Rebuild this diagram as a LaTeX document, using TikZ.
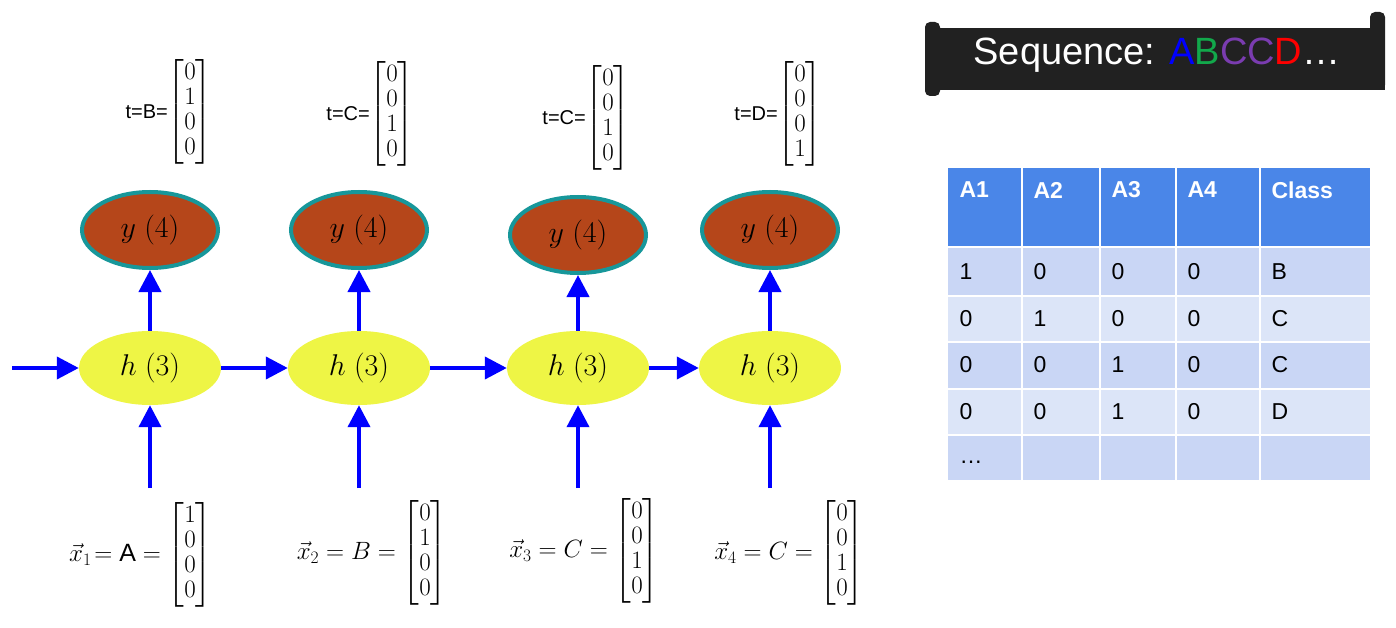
\RequirePackage{fix-cm}
\documentclass[tikz,border=0pt]{standalone}
\usepackage{amsmath}
\usepackage{fontspec}
\setsansfont{Liberation Sans}
\usetikzlibrary{arrows.meta,shapes.geometric}
\definecolor{hdr}{HTML}{4A86E8}
\definecolor{rowa}{HTML}{C9D6F5}
\definecolor{rowb}{HTML}{DCE5F8}
\definecolor{yfill}{HTML}{B5461A}
\definecolor{yedge}{HTML}{17979A}
\definecolor{hfill}{HTML}{EEF545}
\definecolor{seqg}{HTML}{12A84B}
\definecolor{seqp}{HTML}{7A3CB0}
\renewcommand{\arraystretch}{0.92}
\newcommand{\tlab}[1]{{\sffamily\fontsize{20}{20}\selectfont #1}}
\begin{document}
\begin{tikzpicture}[x=1pt,y=-1pt,
 ynode/.style={ellipse,draw=yedge,line width=4pt,fill=yfill,minimum width=136pt,minimum height=76pt,font=\fontsize{30}{30}\selectfont},
 hnode/.style={ellipse,fill=hfill,minimum width=142pt,minimum height=74pt,font=\fontsize{30}{30}\selectfont},
 arr/.style={blue,line width=4pt,-{Triangle[length=22pt,width=22pt]}},
 vec/.style={font=\fontsize{25}{27}\selectfont},
 cell/.style={font=\sffamily\fontsize{23}{23}\selectfont,anchor=west}]
\useasboundingbox (0,0) rectangle (1396,628);
\foreach \i/\x/\yy in {1/150/230,2/359/230,3/578/235,4/770/230}{
 \node[ynode] (y\i) at (\x,\yy) {$y\;(4)$};
 \node[hnode] (h\i) at (\x,368) {$h\;(3)$};
 \coordinate (in\i) at (\x,488);
 \draw[arr] (in\i) -- (h\i.south);
 \draw[arr] (h\i.north) -- (y\i.south);
}
\coordinate (h0) at (12,368);
\draw[arr] (h0) -- (h1.west);
\draw[arr] (h1.east) -- (h2.west);
\draw[arr] (h2.east) -- (h3.west);
\draw[arr] (h3.east) -- (h4.west);
\node[vec,anchor=east] (t1) at (216,112) {\tlab{t=B=}$\begin{bmatrix}0\\1\\0\\0\end{bmatrix}$};
\node[vec,anchor=east] (t2) at (418,114) {\tlab{t=C=}$\begin{bmatrix}0\\0\\1\\0\end{bmatrix}$};
\node[vec,anchor=east] (t3) at (634,118) {\tlab{t=C=}$\begin{bmatrix}0\\0\\1\\0\end{bmatrix}$};
\node[vec,anchor=east] (t4) at (826,114) {\tlab{t=D=}$\begin{bmatrix}0\\0\\0\\1\end{bmatrix}$};
\node[vec,anchor=east] (x1) at (216,555) {$\vec{x}_1\!=\mathsf{A}=\begin{bmatrix}1\\0\\0\\0\end{bmatrix}$};
\node[vec,anchor=east] (x2) at (451,553) {$\vec{x}_2 = B = \begin{bmatrix}0\\1\\0\\0\end{bmatrix}$};
\node[vec,anchor=east] (x3) at (663,551) {$\vec{x}_3 = C = \begin{bmatrix}0\\0\\1\\0\end{bmatrix}$};
\node[vec,anchor=east] (x4) at (868,553) {$\vec{x}_4 = C = \begin{bmatrix}0\\0\\1\\0\end{bmatrix}$};
\fill[fill=black!87] (925,28) rectangle (1385,90);
\fill[fill=black!87,rounded corners=5pt] (925,22) rectangle (940,96);
\fill[fill=black!87,rounded corners=5pt] (1370,12) rectangle (1385,90);
\node[font=\sffamily\fontsize{38}{38}\selectfont,text=white] (seq) at (1157,55) {Sequence: \textcolor{blue}{A}\textcolor{seqg}{B}\textcolor{seqp}{CC}\textcolor{red}{D}\ldots};
\fill[hdr] (948,168) rectangle (1370,246);
\foreach \r/\ya/\yb/\c in {1/248/295/rowa,2/297/341/rowb,3/343/388/rowa,4/390/434/rowb,5/436/480/rowa}{
 \fill[\c] (948,\ya) rectangle (1370,\yb);
}
\foreach \xx in {1022,1100,1176,1260}{\draw[white,line width=2pt] (\xx,168) -- (\xx,480);}
\foreach \yy in {247,296,342,389,435}{\draw[white,line width=2pt] (948,\yy) -- (1370,\yy);}
\foreach \t/\xx in {A1/956,A2/1030,A3/1108,A4/1184,Class/1268}{
 \node[cell,text=white,font=\sffamily\bfseries\fontsize{23}{23}\selectfont] (hd\t) at (\xx,190) {\t};}
\foreach \r/\yy/\a/\b/\c/\d/\e in {1/272/1/0/0/0/B,2/319/0/1/0/0/C,3/365/0/0/1/0/C,4/412/0/0/1/0/D}{
 \node[cell] (c\r a) at (956,\yy) {\a};
 \node[cell] (c\r b) at (1030,\yy) {\b};
 \node[cell] (c\r c) at (1108,\yy) {\c};
 \node[cell] (c\r d) at (1184,\yy) {\d};
 \node[cell] (c\r e) at (1268,\yy) {\e};
}
\node[cell] (dots) at (956,462) {\ldots};
\end{tikzpicture}
\end{document}
